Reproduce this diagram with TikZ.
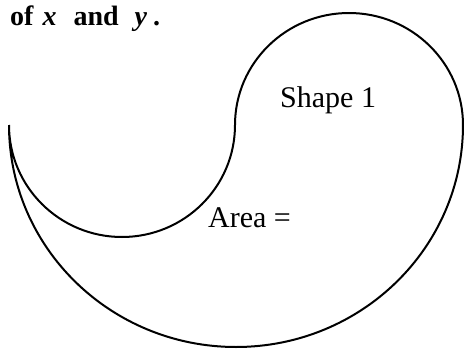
\documentclass[tikz,border=0pt]{standalone}
\usepackage{fontspec}
\setmainfont{Liberation Serif}

\begin{document}
\begin{tikzpicture}[
        x=1pt, y=1pt,
        outlineLine/.style={line width=2pt, line join=round},
        labelText/.style={inner sep=0pt, font=\fontsize{30}{32}\selectfont},
        headText/.style={inner sep=0pt, font=\fontsize{28}{30}\selectfont\bfseries}
    ]
        \clip (0, 0) rectangle (464, -349);

        \coordinate (leftTip) at (9, -125);
        \coordinate (midPoint) at (235, -125);
        \coordinate (rightTip) at (463, -125);

        \draw[outlineLine] (leftTip)
            arc[start angle=180, end angle=360, x radius=227, y radius=222]
            arc[start angle=0, end angle=180, x radius=114, y radius=112]
            arc[start angle=0, end angle=-180, x radius=113, y radius=112];

        \node[headText, anchor=base west] (title) at (10, -25)
            {of\hspace{9pt}\textit{x}\hspace{17pt}and\hspace{16pt}\textit{y}\hspace{6pt}.};
        \node[labelText, anchor=base west] (shapeLabel) at (280, -107) {Shape 1};
        \node[labelText, anchor=base west] (areaLabel) at (208, -227) {Area =};
    \end{tikzpicture}
\end{document}
